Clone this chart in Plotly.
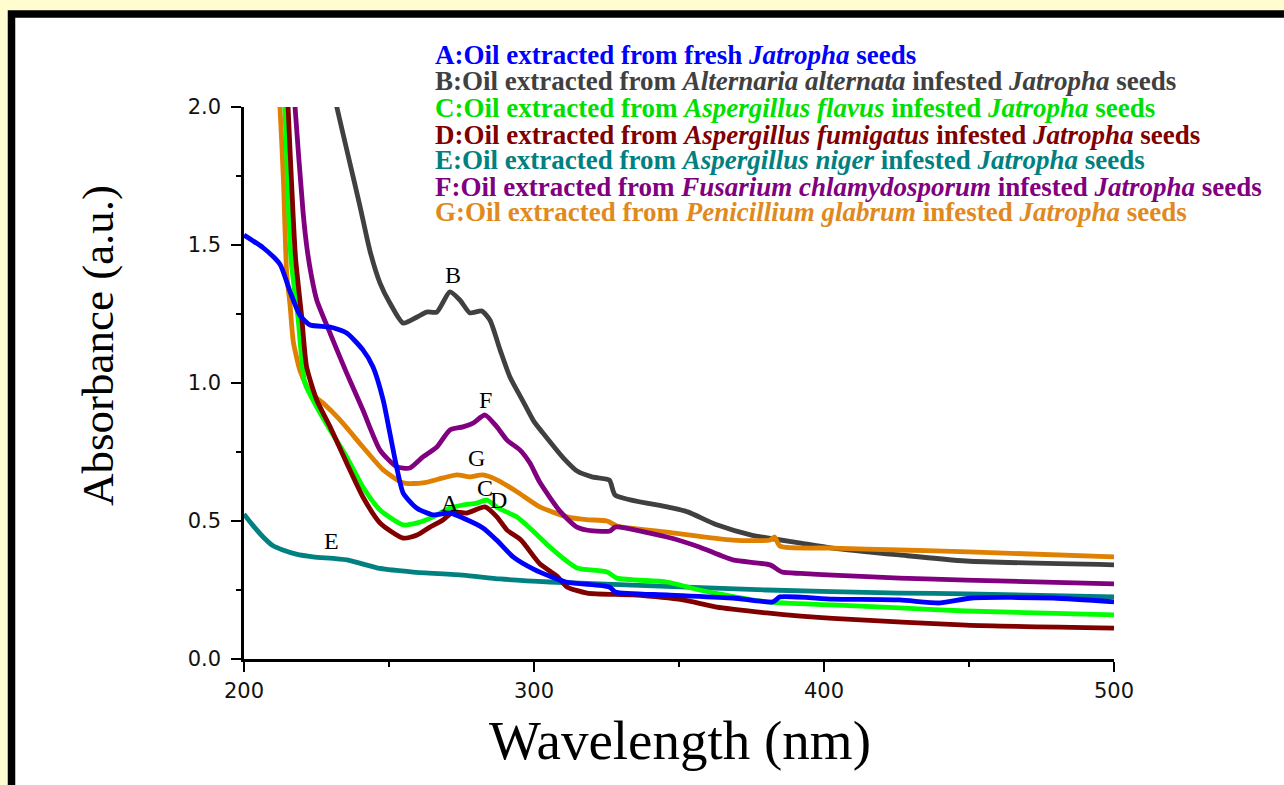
import plotly.graph_objects as go

# ---------------- data ----------------
wl_A = [200, 206.6, 212.4, 215.9, 219.3, 222.8, 229.7, 235.4, 241, 244.5, 248, 250.3, 252.6, 254.9,
        259.5, 265.2, 271, 275.5, 282.4, 287.1, 292.8, 300, 311, 326, 328, 345.8, 368.6, 382.4,
        384.8, 403, 426, 440, 451, 479, 500]
abs_A = [1.536, 1.49, 1.43, 1.33, 1.245, 1.21, 1.203, 1.181, 1.12, 1.058, 0.938, 0.818, 0.697,
         0.601, 0.547, 0.522, 0.529, 0.511, 0.475, 0.431, 0.37, 0.325, 0.279, 0.261, 0.243, 0.232,
         0.221, 0.207, 0.225, 0.217, 0.214, 0.203, 0.221, 0.221, 0.207]

wl_B = [226, 229, 232, 236, 240, 243.4, 246.9, 250.3, 254.9, 259.7, 263, 266.5, 271, 274.5, 277.9,
        282, 284.8, 288.3, 291.7, 296, 300, 303, 310, 315, 320, 326, 328, 346, 353, 363, 375, 392,
        403, 426, 449, 500]
abs_B = [2.35, 2.15, 2.0, 1.82, 1.64, 1.48, 1.362, 1.29, 1.217, 1.239, 1.257, 1.257, 1.33, 1.30,
         1.254, 1.261, 1.228, 1.12, 1.022, 0.938, 0.86, 0.82, 0.73, 0.68, 0.66, 0.648, 0.594, 0.551,
         0.533, 0.486, 0.449, 0.42, 0.402, 0.377, 0.355, 0.341]

wl_C = [211, 214.1, 216.2, 218.6, 221, 225.1, 229.7, 235.4, 241, 246.9, 254.9, 259.7, 265.2, 271,
        275.5, 280.3, 283.8, 287.5, 294, 299, 305, 310, 314.8, 325.2, 328.6, 345.8, 357, 380.3, 403,
        426, 449, 500]
abs_C = [2.7, 2.0, 1.45, 1.239, 1.0, 0.913, 0.83, 0.732, 0.623, 0.54, 0.486, 0.493, 0.515, 0.547,
         0.558, 0.565, 0.576, 0.548, 0.515, 0.47, 0.41, 0.365, 0.33, 0.315, 0.293, 0.279, 0.25,
         0.207, 0.196, 0.185, 0.174, 0.16]

wl_D = [213, 215.2, 216.9, 217.8, 219.9, 221.6, 225.1, 229.7, 235.4, 241, 246.9, 254.9, 259.7, 264.1,
        268.6, 272.1, 276.9, 283.1, 287.2, 290.7, 295.5, 302, 308, 311.4, 318.3, 334, 351.4, 363,
        380.3, 392, 403, 449, 500]
abs_D = [2.6, 2.0, 1.616, 1.45, 1.239, 1.058, 0.938, 0.841, 0.71, 0.587, 0.493, 0.438, 0.449, 0.478,
         0.504, 0.533, 0.529, 0.551, 0.515, 0.467, 0.431, 0.345, 0.30, 0.261, 0.239, 0.232, 0.214,
         0.188, 0.167, 0.155, 0.147, 0.123, 0.112]

wl_E = [200, 203, 206.6, 210, 213.4, 218, 223.8, 235.5, 246.9, 258.3, 275.5, 288.3, 305.5, 334,
        380.3, 426, 449, 500]
abs_E = [0.525, 0.485, 0.442, 0.41, 0.395, 0.38, 0.37, 0.359, 0.328, 0.315, 0.304, 0.29, 0.279,
         0.268, 0.25, 0.239, 0.236, 0.225]

wl_F = [214, 217.6, 220.4, 221.8, 223.3, 225.1, 229.7, 235.4, 241, 246.9, 252.6, 257.2, 261.7, 266.5,
        271, 275.5, 279, 283.1, 287.2, 290.7, 295.2, 298.6, 302, 309, 314.8, 320.3, 326.2, 328,
        345.8, 357, 368.6, 381.4, 385.5, 392, 403, 426, 449, 500]
abs_F = [2.6, 2.0, 1.615, 1.482, 1.385, 1.30, 1.18, 1.036, 0.902, 0.757, 0.697, 0.692, 0.732, 0.768,
         0.83, 0.841, 0.855, 0.884, 0.841, 0.793, 0.757, 0.71, 0.64, 0.535, 0.478, 0.464, 0.464,
         0.478, 0.442, 0.406, 0.359, 0.341, 0.315, 0.31, 0.304, 0.293, 0.286, 0.272]

wl_G = [209, 212.4, 213.6, 214.7, 215.9, 217, 219.3, 221.6, 224, 227.3, 233.1, 241, 248, 254.9, 261.7,
        268.6, 273.4, 277.9, 282.4, 287.2, 294, 302, 311.4, 318, 325.2, 328.6, 345.8, 368.6, 381.4,
        383, 384.8, 403, 426, 450, 500]
abs_G = [2.6, 2.0, 1.735, 1.40, 1.28, 1.15, 1.045, 0.99, 0.955, 0.927, 0.866, 0.768, 0.685, 0.638,
         0.638, 0.656, 0.667, 0.66, 0.667, 0.649, 0.607, 0.551, 0.515, 0.505, 0.5, 0.482, 0.46,
         0.431, 0.431, 0.442, 0.409, 0.402, 0.395, 0.388, 0.37]

series_keys = ["A", "B", "C", "D", "E", "F", "G"]
series_colors = {"A": "#0000FF", "B": "#404040", "C": "#00FF00", "D": "#800000",
                 "E": "#008080", "F": "#800080", "G": "#E08000"}
text_colors = {"A": "#0000FF", "B": "#404040", "C": "#00E000", "D": "#800000",
               "E": "#008080", "F": "#800080", "G": "#E08A1E"}
fungi = ["fresh", "Alternaria alternata", "Aspergillus flavus", "Aspergillus fumigatus",
         "Aspergillus niger", "Fusarium chlamydosporum", "Penicillium glabrum"]

# curve letter labels (position in data units)
label_letters = ["B", "F", "G", "C", "A", "D", "E"]
label_wl = [272, 283.4, 280.2, 283.1, 271, 287.7, 230.2]
label_abs = [1.391, 0.938, 0.727, 0.618, 0.564, 0.576, 0.429]

x_ticks = [200, 300, 400, 500]
y_ticks = [0.0, 0.5, 1.0, 1.5, 2.0]

data = {"A": (wl_A, abs_A), "B": (wl_B, abs_B), "C": (wl_C, abs_C), "D": (wl_D, abs_D),
        "E": (wl_E, abs_E), "F": (wl_F, abs_F), "G": (wl_G, abs_G)}

# ---------------- layout geometry (pixels) ----------------
W, H = 1284, 785
L, R, T, B = 244, 1114, 107, 659
BG = "#FFFCCF"


def px_x(p):
    return (p - L) / (R - L)


def px_y(p):
    return (B - p) / (B - T)


fig = go.Figure()

draw_order = ["E", "B", "G", "C", "D", "F", "A"]
for k in draw_order:
    xs, ys = data[k]
    fig.add_trace(go.Scatter(x=xs, y=ys, mode="lines", name=k, showlegend=False,
                             line=dict(color=series_colors[k], width=4.8, shape="spline",
                                       smoothing=0.6)))

annotations = []
# legend-like text lines
line_centers = [55, 81.5, 108, 134.5, 160, 186.5, 212]
for i, k in enumerate(series_keys):
    if k == "A":
        txt = "<b>A:Oil extracted from fresh <i>Jatropha</i> seeds</b>"
    else:
        txt = f"<b>{k}:Oil extracted from <i>{fungi[i]}</i> infested <i>Jatropha</i> seeds</b>"
    annotations.append(dict(xref="paper", yref="paper", x=px_x(433), y=px_y(line_centers[i]),
                            xanchor="left", yanchor="middle", showarrow=False, text=txt,
                            font=dict(family="Liberation Serif", size=27, color=text_colors[k])))

for letter, lx, ly in zip(label_letters, label_wl, label_abs):
    annotations.append(dict(xref="x", yref="y", x=lx, y=ly, text=letter, showarrow=False,
                            xanchor="center", yanchor="middle",
                            font=dict(family="Liberation Serif", size=24, color="black")))

annotations.append(dict(xref="paper", yref="paper", x=px_x(680), y=px_y(740), text="Wavelength (nm)",
                        showarrow=False, xanchor="center", yanchor="middle",
                        font=dict(family="Liberation Serif", size=55, color="black")))
annotations.append(dict(xref="paper", yref="paper", x=px_x(98), y=px_y(346), text="Absorbance (a.u.)",
                        showarrow=False, xanchor="center", yanchor="middle", textangle=-90,
                        font=dict(family="Liberation Serif", size=45, color="black")))

shapes = [dict(type="rect", xref="paper", yref="paper", layer="below",
               x0=px_x(11.5), y0=px_y(820), x1=px_x(1320), y1=px_y(14),
               line=dict(color="black", width=7.5), fillcolor="white")]

axis_common = dict(showline=True, linecolor="black", linewidth=2.5, ticks="outside", ticklen=10,
                   tickwidth=2, tickcolor="black", showgrid=False, zeroline=False,
                   tickfont=dict(family="DejaVu Sans", size=21, color="#111111"))

fig.update_layout(
    width=W, height=H,
    margin=dict(l=L, r=W - R, t=T, b=H - B, pad=0),
    paper_bgcolor=BG, plot_bgcolor="rgba(0,0,0,0)",
    xaxis=dict(range=[200, 500], tickvals=x_ticks, ticktext=[str(v) for v in x_ticks],
               ticklabelstandoff=1,
               minor=dict(ticks="outside", ticklen=5, tickwidth=2, tickcolor="black", dtick=50,
                          tick0=200, showgrid=False),
               **axis_common),
    yaxis=dict(range=[0, 2.0], tickvals=y_ticks, ticktext=[f"{v:.1f}" for v in y_ticks],
               ticklabelstandoff=6,
               minor=dict(ticks="outside", ticklen=5, tickwidth=2, tickcolor="black", dtick=0.25,
                          tick0=0, showgrid=False),
               **axis_common),
    annotations=annotations,
    shapes=shapes,
)

fig.write_html(
    "out.html",
    config={"displayModeBar": False},
    post_script=("document.body.style.margin='0';document.body.style.overflow='hidden';"
                 "document.body.style.background='" + BG + "';"),
)
